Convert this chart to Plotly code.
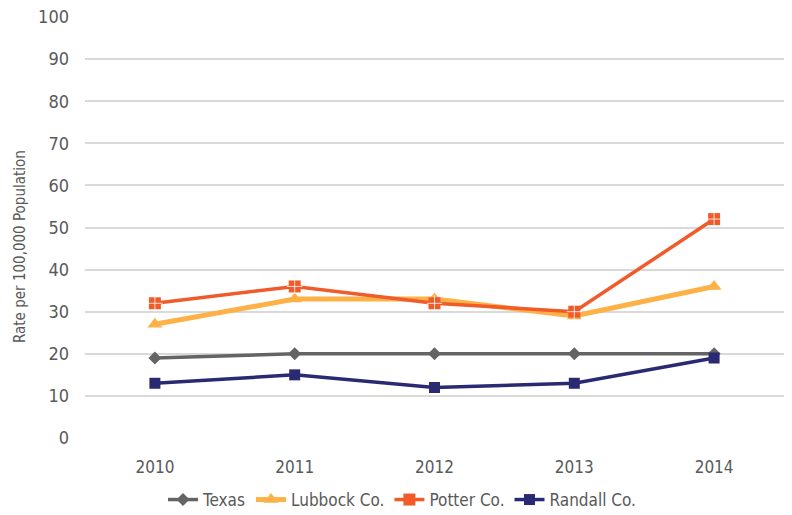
import plotly.graph_objects as go

years = ["2010", "2011", "2012", "2013", "2014"]
texas = [19, 20, 20, 20, 20]
lubbock = [27, 33, 33, 29, 36]
potter = [32, 36, 32, 30, 52]
randall = [13, 15, 12, 13, 19]

FONT = "DejaVu Sans Condensed, Liberation Sans Narrow, sans-serif"
TXT = "#595959"

fig = go.Figure()
fig.add_trace(go.Scatter(x=years, y=texas, name="Texas", mode="lines+markers",
                         line=dict(color="#646464", width=3.5),
                         marker=dict(symbol="diamond", size=10, color="#646464")))
fig.add_trace(go.Scatter(x=years, y=lubbock, name="Lubbock Co.", mode="lines+markers",
                         line=dict(color="#FDB147", width=5),
                         marker=dict(symbol="triangle-up", size=13, color="#FDB147")))
fig.add_trace(go.Scatter(x=years, y=potter, name="Potter Co.", mode="lines+markers",
                         line=dict(color="#F15A29", width=3.5),
                         marker=dict(symbol="square", size=12, color="#F15A29")))
fig.add_trace(go.Scatter(x=years, y=potter, showlegend=False, mode="markers", hoverinfo="skip",
                         marker=dict(symbol="cross-thin", size=11, color="white",
                                     line=dict(color="rgba(255,255,255,0.8)", width=1))))
fig.add_trace(go.Scatter(x=years, y=randall, name="Randall Co.", mode="lines+markers",
                         line=dict(color="#2A2A72", width=3.5),
                         marker=dict(symbol="square", size=11, color="#2A2A72")))

fig.add_annotation(text="Rate per 100,000 Population", textangle=-90,
                   xref="paper", yref="paper", x=(20 - 85) / 699, y=(438 - 247) / 421,
                   xanchor="center", yanchor="middle", showarrow=False,
                   font=dict(size=15, color=TXT, family=FONT))

fig.update_layout(
    width=792, height=515,
    margin=dict(l=85, r=8, t=17, b=77, autoexpand=False),
    paper_bgcolor="white", plot_bgcolor="white",
    font=dict(family=FONT, size=17, color=TXT),
    showlegend=True,
    legend=dict(orientation="h", xref="container", x=402 / 792, xanchor="center",
                yref="container", y=15 / 515, yanchor="middle", itemwidth=30,
                font=dict(size=17, color=TXT), tracegroupgap=0),
    xaxis=dict(type="category", range=[-0.5, 4.5], showgrid=False, showline=False,
               zeroline=False, ticks="", tickfont=dict(size=17), automargin=False,
               ticklabelstandoff=17),
    yaxis=dict(range=[0, 100], dtick=10, showgrid=True, gridcolor="#D9D9D9", gridwidth=2,
               zeroline=False, showline=False, ticks="", tickfont=dict(size=18),
               automargin=False, ticklabelstandoff=15),
)

fig.write_html("out.html", config={"displayModeBar": False},
               post_script="document.body.style.margin='0';")
